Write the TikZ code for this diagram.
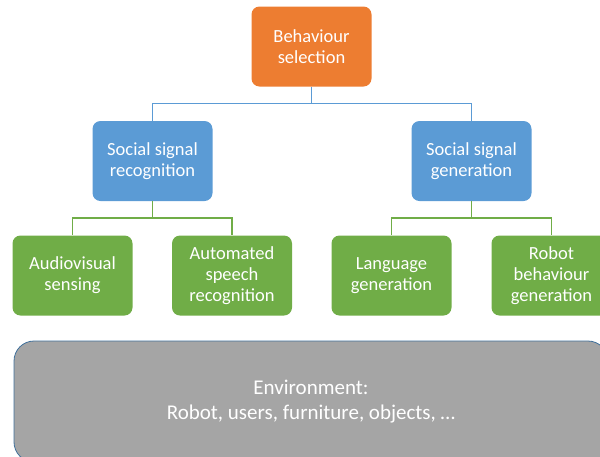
\documentclass[tikz,border=0pt]{standalone}
\usepackage{fontspec}
\setmainfont{Carlito}
\definecolor{selcolor}{HTML}{ED7D31}
\definecolor{signalcolor}{HTML}{5B9BD5}
\definecolor{modulecolor}{HTML}{70AD47}
\definecolor{envcolor}{HTML}{A5A5A5}
\definecolor{envborder}{HTML}{41719C}

\begin{document}
\begin{tikzpicture}[x=1pt, y=-1pt,
    box/.style={rounded corners=8pt, text=white, align=center,
        minimum width=120pt, minimum height=80pt, inner sep=0pt,
        font=\fontsize{18.5}{21}\selectfont},
    selbox/.style={box, fill=selcolor},
    signalbox/.style={box, fill=signalcolor},
    modulebox/.style={box, fill=modulecolor},
    bluelink/.style={signalcolor, line width=1.5pt},
    greenlink/.style={modulecolor, line width=1.5pt}]
    \clip (0,0) rectangle (600,456);

    % Top level
    \node[selbox] (sel) at (311.5,46.5) {Behaviour\\selection};

    % Social signal processing
    \node[signalbox] (ssr) at (152.5,161) {Social signal\\recognition};
    \node[signalbox] (ssg) at (471.5,161) {Social signal\\generation};

    % Modules
    \node[modulebox] (avs) at (72.5,275.5) {Audiovisual\\sensing};
    \node[modulebox] (asr) at (232,275.5) {Automated\\speech\\recognition};
    \node[modulebox] (lng) at (391.5,275.5) {Language\\generation};
    \node[modulebox] (rbg) at (551.5,275.5) {Robot\\behaviour\\generation};

    % Environment
    \node[rounded corners=20pt, fill=envcolor, draw=envborder, line width=0.8pt,
        text=white, align=center, minimum width=594pt, minimum height=121pt,
        font=\fontsize{21}{25}\selectfont] (env) at (311,401.5)
        {Environment:\\Robot, users, furniture, objects, \dots};

    % Connectors
    \draw[bluelink] (sel.south) -- ++(0,17) coordinate (selj);
    \draw[bluelink] (selj) -| (ssr.north);
    \draw[bluelink] (selj) -| (ssg.north);

    \draw[greenlink] (ssr.south) -- ++(0,17) coordinate (ssrj);
    \draw[greenlink] (ssrj) -| (avs.north);
    \draw[greenlink] (ssrj) -| (asr.north);

    \draw[greenlink] (ssg.south) -- ++(0,17) coordinate (ssgj);
    \draw[greenlink] (ssgj) -| (lng.north);
    \draw[greenlink] (ssgj) -| (rbg.north);
\end{tikzpicture}
\end{document}
